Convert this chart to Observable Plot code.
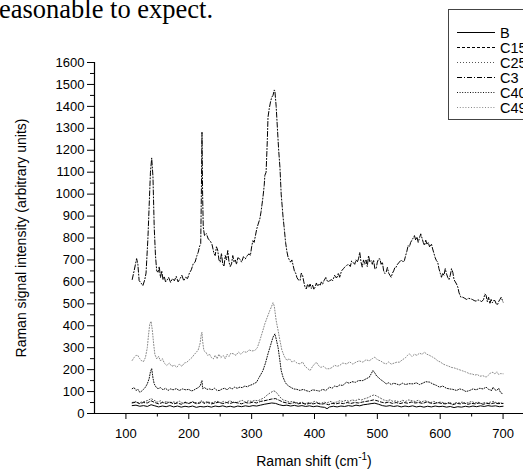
<!DOCTYPE html>
<html>
<head>
<meta charset="utf-8">
<script src="https://cdn.jsdelivr.net/npm/d3@7"></script>
<script src="https://cdn.jsdelivr.net/npm/@observablehq/plot@0.6"></script>
<style>
  html, body { margin: 0; padding: 0; background: #fff; overflow: hidden; }
  #wrap { position: relative; width: 523px; height: 471px; }
  #wrap svg { position: absolute; left: 0; top: 0; }
</style>
</head>
<body>
<div id="wrap"></div>
<script>
// ---- data (Raman shift cm-1, intensity) ----
const seriesNames = ["B", "C15", "C25", "C3", "C40", "C49"];
const xTicks = [100, 200, 300, 400, 500, 600, 700];
const yTicks = [0,100,200,300,400,500,600,700,800,900,1000,1100,1200,1300,1400,1500,1600];

const dataB = [[110,36],[116,38],[122,33],[128,36],[134,32],[140,40],[146,35],[152,30],[158,34],[164,31],[170,36],[176,30],[182,34],[188,29],[194,33],[200,30],[206,34],[212,28],[218,32],[224,30],[230,33],[236,29],[242,34],[248,31],[254,35],[260,30],[266,33],[272,29],[278,34],[284,31],[290,35],[296,32],[302,36],[308,34],[314,38],[320,42],[326,45],[332,48],[338,46],[344,40],[350,36],[356,38],[362,34],[368,37],[374,33],[380,36],[386,32],[392,35],[398,31],[404,34],[410,30],[416,28],[420,22],[424,30],[430,33],[436,30],[442,34],[448,32],[454,36],[460,33],[466,38],[472,35],[478,40],[484,42],[490,45],[496,47],[502,42],[508,36],[514,33],[520,36],[526,32],[532,35],[538,30],[544,34],[550,31],[556,35],[562,30],[568,33],[574,29],[580,33],[586,30],[592,34],[598,31],[604,33],[610,29],[616,32],[622,27],[628,31],[634,29],[640,33],[646,30],[652,34],[658,31],[664,35],[670,32],[676,36],[682,33],[688,35],[694,31],[700,33]];

const dataC15 = [[110,48],[116,52],[122,45],[128,50],[134,48],[140,58],[146,50],[152,44],[158,50],[164,46],[170,52],[176,44],[182,48],[188,42],[194,50],[200,46],[206,52],[212,45],[218,48],[221,55],[224,46],[230,50],[236,44],[242,48],[248,52],[254,45],[260,50],[266,46],[272,52],[278,48],[284,44],[290,50],[296,47],[302,52],[308,48],[314,55],[320,58],[326,62],[332,66],[338,68],[344,60],[350,52],[356,48],[362,45],[368,50],[374,44],[380,48],[386,42],[392,46],[398,44],[404,48],[410,42],[416,45],[422,40],[428,46],[434,44],[440,48],[446,45],[452,50],[458,46],[464,50],[470,48],[476,52],[482,55],[488,58],[494,62],[500,58],[506,52],[512,48],[518,52],[524,46],[530,50],[536,45],[542,50],[548,47],[554,52],[560,48],[566,50],[572,46],[578,52],[584,48],[590,45],[596,50],[602,46],[608,44],[614,48],[620,40],[626,46],[632,44],[638,48],[644,42],[650,46],[656,44],[662,48],[668,42],[674,46],[680,44],[686,48],[692,45],[700,46]];

const dataC25 = [[110,50],[115,55],[120,48],[125,52],[130,55],[135,60],[140,68],[145,60],[150,52],[155,58],[160,50],[165,55],[170,48],[175,53],[180,50],[185,56],[190,48],[195,52],[200,45],[205,55],[210,50],[215,48],[220,58],[225,50],[230,55],[235,48],[240,52],[245,56],[250,48],[255,55],[260,50],[265,58],[270,52],[275,48],[280,55],[285,60],[290,52],[295,58],[300,55],[305,60],[310,58],[315,65],[320,72],[325,85],[330,95],[335,103],[338,100],[341,90],[345,75],[350,62],[355,58],[360,52],[365,55],[370,50],[375,48],[380,52],[385,45],[390,50],[395,48],[400,55],[405,50],[410,45],[415,52],[420,48],[425,55],[430,50],[435,52],[440,58],[445,55],[450,60],[455,55],[460,62],[465,58],[470,65],[475,62],[480,68],[485,72],[490,80],[495,85],[500,78],[505,70],[510,62],[515,58],[520,62],[525,55],[530,58],[535,52],[540,60],[545,55],[550,62],[555,58],[560,55],[565,60],[570,52],[575,58],[580,55],[585,50],[590,55],[595,48],[600,52],[605,50],[610,45],[615,52],[620,42],[625,50],[630,48],[635,52],[640,46],[645,50],[650,55],[655,48],[660,52],[665,45],[670,50],[675,48],[680,52],[685,55],[690,48],[695,50],[700,45]];

const dataC3 = [[110,611],[113,650],[117,706],[119,680],[121,606],[124,595],[127,583],[130,610],[132,640],[135,800],[137,950],[139,1100],[141,1165],[143,1080],[145,850],[147,720],[149,650],[151,644],[153,670],[155,620],[157,650],[159,610],[161,625],[163,600],[165,606],[168,620],[171,598],[174,615],[177,605],[180,625],[183,600],[186,614],[189,630],[192,605],[195,621],[198,615],[201,640],[204,655],[207,682],[210,690],[213,720],[215,735],[217,760],[219,775],[220,1000],[221,1282],[222,1000],[223,850],[225,811],[228,820],[231,795],[234,788],[237,770],[240,730],[242,720],[244,760],[246,745],[248,700],[250,690],[252,730],[254,682],[256,670],[258,720],[260,700],[262,743],[264,690],[266,670],[268,682],[270,720],[272,690],[274,700],[276,680],[278,710],[281,705],[284,690],[287,715],[290,705],[293,720],[296,728],[298,720],[300,760],[302,788],[304,780],[306,810],[308,840],[310,860],[313,887],[315,920],[318,986],[320,1040],[321,1085],[323,1100],[325,1250],[326,1350],[328,1390],[330,1420],[332,1442],[334,1450],[336,1475],[337,1470],[339,1400],[341,1300],[343,1200],[345,1123],[347,1000],[350,895],[352,840],[354,780],[356,740],[358,712],[360,700],[362,690],[364,700],[366,675],[368,650],[370,640],[372,620],[374,610],[377,606],[379,640],[381,630],[383,600],[385,575],[387,568],[389,590],[391,575],[393,590],[395,570],[397,585],[399,565],[401,576],[403,595],[405,580],[407,591],[409,585],[411,600],[413,590],[415,605],[418,620],[421,600],[424,605],[427,610],[429,606],[432,630],[434,620],[436,621],[438,640],[440,621],[443,650],[446,660],[448,667],[451,675],[454,680],[457,670],[459,695],[461,690],[464,680],[466,700],[468,690],[470,705],[472,735],[474,690],[476,667],[478,700],[480,680],[482,700],[484,670],[486,720],[488,690],[490,697],[492,680],[494,700],[496,660],[498,660],[500,690],[502,705],[504,705],[506,680],[508,690],[510,650],[512,638],[514,644],[516,666],[518,640],[520,630],[522,621],[524,640],[526,650],[528,667],[530,667],[532,680],[535,690],[538,700],[541,690],[543,697],[545,720],[547,740],[549,766],[551,760],[553,780],[555,790],[557,800],[559,811],[561,790],[563,805],[565,780],[567,800],[569,819],[571,800],[573,780],[575,766],[577,790],[579,770],[581,780],[583,760],[586,773],[588,750],[590,730],[592,710],[594,697],[596,690],[598,660],[600,640],[602,621],[604,640],[606,630],[608,660],[610,637],[612,620],[614,610],[616,630],[618,660],[620,644],[622,610],[624,600],[626,590],[628,576],[630,550],[633,530],[636,530],[639,525],[642,520],[645,525],[648,523],[651,520],[654,515],[657,512],[660,518],[663,515],[666,510],[669,520],[671,545],[673,538],[675,510],[677,530],[679,500],[681,520],[683,505],[685,515],[687,515],[689,500],[691,495],[693,510],[695,520],[697,530],[699,515],[700,508]];

const dataC40 = [[110,113],[113,118],[116,105],[119,110],[122,97],[125,102],[128,110],[131,120],[134,135],[137,160],[139,190],[141,205],[143,162],[145,135],[148,120],[151,113],[155,118],[159,108],[163,115],[167,105],[171,112],[175,108],[180,113],[185,105],[190,112],[195,108],[200,110],[204,103],[207,105],[211,112],[215,118],[218,125],[220,143],[221,150],[222,113],[225,118],[229,110],[233,112],[237,108],[241,115],[245,105],[249,105],[253,112],[257,115],[261,108],[265,118],[269,112],[273,120],[277,115],[281,120],[285,118],[289,125],[293,122],[297,128],[301,132],[305,138],[308,143],[311,160],[315,180],[318,196],[322,230],[326,272],[330,310],[334,348],[337,363],[339,340],[342,302],[345,240],[347,196],[350,165],[353,145],[355,135],[359,125],[363,118],[367,112],[372,110],[377,105],[382,110],[387,104],[392,100],[397,108],[403,105],[408,102],[413,110],[418,105],[424,120],[428,115],[432,125],[436,122],[440,130],[445,128],[451,143],[455,138],[460,145],[465,142],[470,150],[477,150],[482,158],[487,165],[490,180],[493,196],[496,185],[499,170],[501,166],[505,155],[510,145],[514,135],[518,140],[522,132],[526,138],[530,135],[535,130],[540,138],[545,132],[550,136],[557,135],[562,140],[567,132],[572,138],[577,145],[583,143],[588,135],[594,128],[599,120],[604,125],[610,115],[615,112],[620,110],[626,105],[631,112],[636,108],[641,100],[647,105],[652,112],[657,108],[663,115],[668,112],[673,120],[677,110],[682,105],[684,120],[687,108],[690,105],[693,115],[696,95],[698,92],[700,90]];

const dataC49 = [[110,242],[113,255],[116,265],[119,264],[122,250],[125,240],[128,237],[131,255],[134,300],[136,360],[138,409],[140,420],[142,380],[144,320],[146,270],[149,249],[152,260],[155,240],[158,250],[161,230],[165,219],[169,230],[173,215],[177,220],[181,211],[185,225],[189,215],[193,230],[197,234],[201,245],[205,255],[209,270],[212,279],[215,290],[218,320],[220,363],[221,370],[222,330],[224,287],[227,280],[230,265],[233,270],[236,255],[239,249],[242,265],[245,250],[248,270],[251,255],[255,264],[258,250],[261,270],[264,260],[267,275],[271,272],[275,265],[279,280],[283,270],[287,282],[292,279],[296,290],[300,285],[305,287],[309,300],[313,333],[317,370],[321,409],[325,440],[329,470],[332,490],[334,505],[336,490],[339,424],[342,380],[345,333],[348,290],[352,260],[356,242],[360,250],[364,235],[368,240],[372,230],[377,226],[381,235],[385,215],[389,205],[393,196],[397,215],[400,225],[403,234],[406,220],[410,210],[414,215],[419,204],[424,204],[428,210],[432,220],[436,215],[440,219],[445,230],[451,226],[456,235],[461,225],[466,234],[471,240],[477,234],[482,245],[487,240],[492,250],[496,257],[500,245],[505,240],[510,230],[514,226],[518,235],[522,225],[527,230],[531,234],[535,234],[540,245],[545,255],[548,265],[551,272],[555,260],[559,270],[563,265],[567,275],[571,270],[575,279],[579,270],[583,265],[588,257],[592,250],[596,240],[600,235],[605,225],[610,219],[614,215],[618,210],[622,208],[626,204],[630,200],[635,195],[640,190],[644,185],[647,181],[651,180],[655,175],[659,178],[663,170],[668,172],[673,166],[677,175],[680,185],[684,188],[687,180],[690,190],[693,178],[696,182],[700,181]];

const seriesData = [dataB, dataC15, dataC25, dataC3, dataC40, dataC49];

// ---- styles ----
const styles = {
  B:   {stroke: "#000", dash: null},
  C15: {stroke: "#000", dash: "3,2"},
  C25: {stroke: "#555", dash: "1,2"},
  C3:  {stroke: "#000", dash: "5,2,1,2"},
  C40: {stroke: "#111", dash: "1,1.6"},
  C49: {stroke: "#888", dash: "1,1.8"}
};

const rows = [];
seriesNames.forEach((name, i) => {
  seriesData[i].forEach(([x, y]) => rows.push({series: name, x, y}));
});

const lineMarks = seriesNames.map(name =>
  Plot.line(rows.filter(d => d.series === name), {
    x: "x", y: "y", stroke: styles[name].stroke, strokeWidth: 1,
    strokeDasharray: styles[name].dash || undefined
  })
);

const minorY = d3.range(50, 1600, 100);
const minorX = d3.range(150, 750, 100);

const chart = Plot.plot({
  width: 523,
  height: 471,
  marginLeft: 94,
  marginTop: 62,
  marginBottom: 58,
  marginRight: -11,
  style: {fontFamily: "'Liberation Sans', Arial, sans-serif", fontSize: "13px", color: "#000", background: "transparent"},
  x: {domain: [50, 750]},
  y: {domain: [0, 1600]},
  marks: [
    ...lineMarks.slice().reverse(),
    Plot.axisY({ticks: yTicks, tickSize: 7, tickPadding: 3, fontSize: 13, label: null, tickFormat: d => String(d)}),
    Plot.axisY({ticks: minorY, tickSize: 4, tickFormat: () => "", label: null}),
    Plot.axisX({ticks: xTicks, tickSize: 6, tickPadding: 9, fontSize: 13, label: null, tickFormat: d => String(d)}),
    Plot.axisX({ticks: minorX, tickSize: 3.5, tickFormat: () => "", label: null}),
    Plot.ruleX([50], {stroke: "#000", strokeWidth: 1.2}),
    Plot.ruleY([0], {stroke: "#000", strokeWidth: 1.2})
  ]
});

document.getElementById("wrap").appendChild(chart);

// ---- overlay: document text, axis titles, legend ----
const ov = d3.select("#wrap").append("svg")
  .attr("width", 523).attr("height", 471)
  .style("font-family", "'Liberation Sans', Arial, sans-serif");

ov.append("text").attr("x", -1).attr("y", 18)
  .style("font-family", "'Liberation Serif', 'Times New Roman', serif")
  .style("font-size", "26.5px").text("easonable to expect.");

ov.append("text")
  .attr("transform", "translate(26,238) rotate(-90)")
  .attr("text-anchor", "middle").style("font-size", "14px")
  .text("Raman signal intensity (arbitrary units)");

const xt = ov.append("text").attr("x", 314).attr("y", 466)
  .attr("text-anchor", "middle").style("font-size", "14px");
xt.append("tspan").text("Raman shift (cm");
xt.append("tspan").attr("dy", -6).style("font-size", "10px").text("-1");
xt.append("tspan").attr("dy", 6).text(")");

ov.append("rect").attr("x", 448.5).attr("y", 9.5).attr("width", 100).attr("height", 110)
  .attr("fill", "#fff").attr("stroke", "#444").attr("stroke-width", 1);

seriesNames.forEach((name, i) => {
  const y = 32.5 + i * 15;
  ov.append("line").attr("x1", 457).attr("x2", 495).attr("y1", y).attr("y2", y)
    .attr("stroke", styles[name].stroke).attr("stroke-width", 1)
    .attr("stroke-dasharray", styles[name].dash);
  ov.append("text").attr("x", 500).attr("y", y).attr("dy", "0.36em")
    .style("font-size", "14.5px").text(name);
});
</script>
</body>
</html>
